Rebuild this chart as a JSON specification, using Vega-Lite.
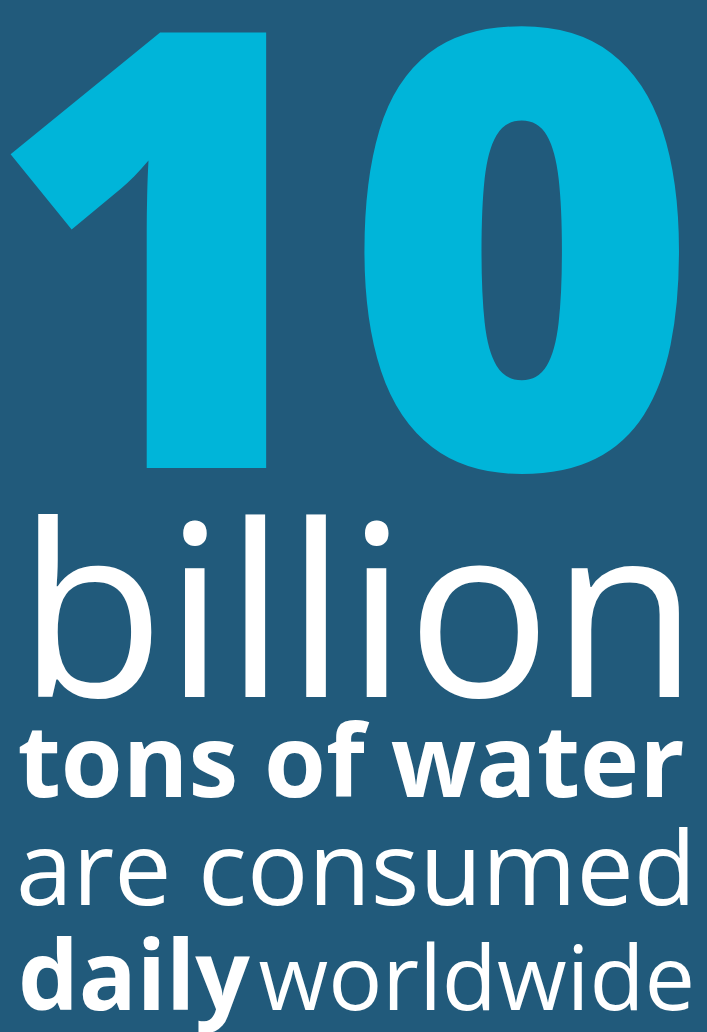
{
  "$schema": "https://vega.github.io/schema/vega-lite/v6.json",
  "width": 707,
  "height": 1032,
  "autosize": {"type": "none"},
  "padding": 0,
  "background": "#215a7b",
  "view": {"stroke": null, "fill": "#215a7b"},
  "config": {"font": "Open Sans"},
  "data": {
    "values": [
      {"part": "number", "text": "10", "x": 343, "y": 468},
      {"part": "unit", "text": "billion", "x": 358, "y": 697},
      {"part": "what", "text": "tons of water", "x": 351, "y": 797},
      {"part": "verb", "text": "are consumed", "x": 356, "y": 905},
      {"part": "when", "text": "daily", "x": 18, "y": 1010},
      {"part": "where", "text": "worldwide", "x": 695, "y": 1010}
    ]
  },
  "encoding": {
    "x": {"field": "x", "type": "quantitative", "scale": {"domain": [0, 707]}, "axis": null},
    "y": {"field": "y", "type": "quantitative", "scale": {"domain": [0, 1032], "reverse": true}, "axis": null},
    "text": {"field": "text"}
  },
  "layer": [
    {
      "transform": [{"filter": "datum.part == 'number'"}],
      "mark": {"type": "text", "font": "Open Sans", "fontWeight": 800, "fontSize": 610, "color": "#00b5d9", "align": "center", "baseline": "alphabetic"}
    },
    {
      "transform": [{"filter": "datum.part == 'unit'"}],
      "mark": {"type": "text", "font": "Open Sans", "fontWeight": 400, "fontSize": 240, "color": "#ffffff", "align": "center", "baseline": "alphabetic"}
    },
    {
      "transform": [{"filter": "datum.part == 'what'"}],
      "mark": {"type": "text", "font": "Open Sans", "fontWeight": 700, "fontSize": 100, "color": "#ffffff", "align": "center", "baseline": "alphabetic"}
    },
    {
      "transform": [{"filter": "datum.part == 'verb'"}],
      "mark": {"type": "text", "font": "Open Sans", "fontWeight": 400, "fontSize": 102, "color": "#ffffff", "align": "center", "baseline": "alphabetic"}
    },
    {
      "transform": [{"filter": "datum.part == 'when'"}],
      "mark": {"type": "text", "font": "Open Sans", "fontWeight": 700, "fontSize": 96, "color": "#ffffff", "align": "left", "baseline": "alphabetic"}
    },
    {
      "transform": [{"filter": "datum.part == 'where'"}],
      "mark": {"type": "text", "font": "Open Sans", "fontWeight": 400, "fontSize": 90, "color": "#ffffff", "align": "right", "baseline": "alphabetic"}
    }
  ]
}
